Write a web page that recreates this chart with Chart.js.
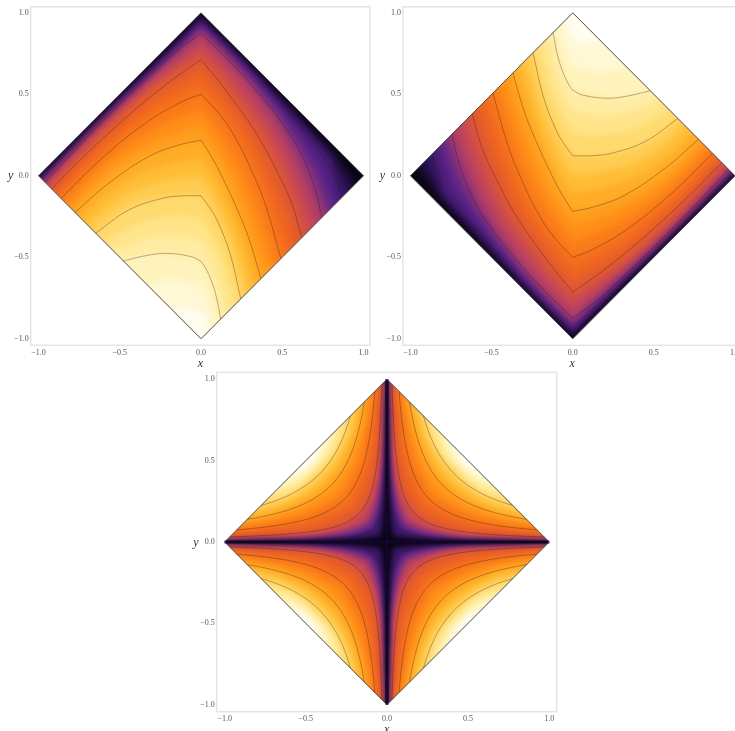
<!DOCTYPE html>
<html><head><meta charset="utf-8">
<style>
html,body{margin:0;padding:0;background:#fff;width:735px;height:731px;overflow:hidden}
canvas{position:absolute}
.lines{filter:blur(.35px)}
</style>
<script src="https://cdn.jsdelivr.net/npm/chart.js@4"></script>
</head><body>
<canvas id="f1" style="left:0;top:0"></canvas>
<canvas id="c1" class="lines" style="left:0;top:0"></canvas>
<canvas id="f2" style="left:372px;top:0"></canvas>
<canvas id="c2" class="lines" style="left:372px;top:0"></canvas>
<canvas id="f3" style="left:190px;top:365px"></canvas>
<canvas id="c3" class="lines" style="left:190px;top:365px"></canvas>
<script>
// ---- axis data
const tickValues = [-1, -0.5, 0, 0.5, 1];
const tickLabels = ['\u22121.0', '\u22120.5', '0.0', '0.5', '1.0'];

// ---- colour scale: value 0..1
const scaleStops = [0, .06, .125, .2, .25, .31, .375, .44, .5, .56, .625, .69, .75, .81, .875, .94, 1];
const scaleColors = ['#000000', '#1d0c36', '#431a7a', '#6a2a8a', '#a83a68', '#c4455a', '#dc5535', '#ee6520', '#f8741a',
  '#ff8c18', '#ffa41f', '#ffbe38', '#ffd460', '#ffe488', '#fff0b0', '#fff8d8', '#ffffff'];

// ---- upper panels: colour levels, as fractions along rays from the corner (0,-1)
const rayX = [-1, -.833, -.667, -.5, -.333, -.167, 0, .167, .333, .5, .667, .833, 1];
const rayY = [0, .167, .333, .5, .667, .833, 1, .833, .667, .5, .333, .167, 0];
const wedgeLevels = [0, .042, .083, .125, .167, .208, .25, .292, .333, .375, .417, .458, .5, .542, .583, .625, .667, .708, .75, .792, .833, .875, .917, .958];
const wedgeRows = [
  [1,1,1,1,1,1,1,1,1,1,1,1,1],
  [.995,.995,.995,.995,.993,.993,.993,.993,.993,.99,.986,.982,.953],
  [.99,.99,.99,.99,.987,.985,.985,.987,.986,.979,.972,.964,.907],
  [.985,.985,.985,.985,.98,.978,.978,.98,.979,.969,.958,.946,.86],
  [.978,.979,.98,.978,.972,.968,.965,.968,.964,.948,.927,.892,.822],
  [.972,.974,.975,.972,.965,.958,.952,.955,.948,.928,.895,.848,.783],
  [.965,.968,.97,.965,.957,.948,.939,.943,.933,.907,.864,.804,.745],
  [.952,.956,.958,.954,.945,.929,.912,.913,.899,.871,.824,.764,.705],
  [.938,.944,.947,.943,.932,.91,.885,.884,.866,.836,.784,.725,.665],
  [.925,.932,.935,.932,.92,.892,.858,.854,.832,.8,.743,.685,.625],
  [.905,.911,.911,.904,.889,.857,.821,.814,.792,.755,.695,.639,.583],
  [.885,.89,.888,.876,.858,.822,.785,.775,.753,.71,.648,.592,.542],
  [.865,.868,.864,.849,.827,.786,.748,.735,.713,.664,.6,.546,.5],
  [.837,.84,.833,.813,.783,.742,.702,.687,.656,.608,.549,.5,.458],
  [.808,.813,.803,.776,.74,.698,.655,.638,.6,.552,.499,.454,.417],
  [.78,.785,.772,.74,.696,.654,.609,.59,.543,.496,.448,.408,.375],
  [.737,.738,.721,.685,.639,.596,.552,.533,.491,.448,.402,.364,.333],
  [.693,.69,.67,.63,.582,.538,.495,.476,.439,.4,.356,.32,.292],
  [.65,.643,.618,.574,.525,.48,.4375,.419,.387,.352,.31,.277,.25],
  [.594,.572,.542,.496,.45,.408,.37,.354,.325,.296,.257,.238,.207],
  [.538,.504,.466,.418,.375,.337,.302,.288,.262,.232,.204,.177,.163],
  [.482,.437,.39,.34,.3,.265,.234,.223,.2,.171,.15,.133,.12],
  [.33,.3,.27,.235,.205,.18,.16,.15,.135,.115,.1,.09,.08],
  [.17,.155,.14,.12,.105,.09,.08,.075,.07,.06,.05,.045,.04]
];

// ---- upper panels: contour lines (each side of the crease at x=0)
const wedgeLeftX = [
  [-.96,-.8,-.62,-.46,-.314,-.15,0],
  [-.919,-.714,-.447,-.242,-.12,0],
  [-.862,-.611,-.345,-.119,0],
  [-.775,-.57,-.324,-.139,0],
  [-.648,-.447,-.242,-.119,0],
  [-.478,-.324,-.201,-.057,0]
];
const wedgeLeftY = [
  [-.04,.13,.315,.475,.615,.765,.873],
  [-.081,.125,.37,.54,.63,.713],
  [-.138,.106,.321,.454,.501],
  [-.225,-.047,.117,.188,.219],
  [-.352,-.211,-.139,-.123,-.123],
  [-.522,-.487,-.476,-.497,-.525]
];
const wedgeRightX = [
  [0,.168,.373,.578,.763,.835,.866],
  [0,.168,.373,.537,.6,.665,.71,.743],
  [0,.168,.353,.476,.558,.62],
  [0,.127,.23,.312,.394,.492],
  [0,.066,.127,.23,.3,.369],
  [0,.05,.1,.178,.245],
  [0,.025,.066,.096,.121]
];
const wedgeRightY = [
  [.955,.8,.59,.342,.1,-.03,-.134],
  [.873,.71,.485,.27,.165,.025,-.11,-.257],
  [.713,.505,.239,.01,-.17,-.38],
  [.501,.362,.2,.03,-.17,-.508],
  [.219,.115,0,-.222,-.4,-.631],
  [-.123,-.19,-.275,-.476,-.755],
  [-.525,-.56,-.65,-.75,-.879]
];

// ---- lower panel: colour levels, as fractions along rays from the edge midpoint (.5,.5) to axis point (0,t)
const crossRayT = [1, .8, .65, .5, .38, .28, .18, .1, .04, 0];
const crossLevels = [0, .03, .07, .14, .19, .24, .29, .33, .375, .417, .458, .5, .542, .583, .625, .667, .708, .75, .79, .83, .875, .92, .96];
const crossRows = [
  [1,1,1,1,1,1,1,1,1,1],
  [.996,.992,.99,.988,.985,.98,.975,.97,.96,.95],
  [.992,.986,.982,.978,.972,.965,.955,.94,.925,.91],
  [.985,.976,.972,.968,.958,.946,.92,.894,.86,.84],
  [.976,.965,.96,.953,.938,.92,.888,.855,.822,.8],
  [.967,.954,.948,.938,.919,.893,.856,.816,.784,.76],
  [.958,.944,.936,.924,.899,.867,.824,.778,.746,.72],
  [.949,.933,.924,.909,.88,.84,.792,.739,.708,.68],
  [.94,.922,.912,.894,.86,.814,.76,.7,.67,.64],
  [.913,.885,.866,.836,.79,.743,.692,.64,.613,.587],
  [.887,.847,.82,.778,.72,.672,.623,.58,.557,.533],
  [.86,.81,.773,.72,.65,.6,.555,.52,.5,.48],
  [.82,.761,.71,.65,.582,.533,.489,.455,.435,.417],
  [.779,.713,.647,.58,.514,.467,.422,.39,.369,.353],
  [.738,.664,.584,.51,.446,.4,.356,.325,.304,.29],
  [.676,.6,.519,.44,.38,.338,.301,.275,.258,.247],
  [.614,.536,.453,.37,.313,.276,.247,.224,.212,.203],
  [.552,.472,.388,.3,.246,.214,.192,.174,.165,.16],
  [.48,.41,.335,.26,.21,.18,.16,.145,.14,.135],
  [.41,.345,.28,.215,.175,.15,.13,.12,.115,.11],
  [.33,.275,.22,.17,.14,.12,.105,.095,.09,.085],
  [.24,.2,.16,.125,.1,.09,.075,.07,.065,.06],
  [.13,.11,.09,.07,.055,.05,.042,.038,.035,.033]
];

// ---- lower panel: contour lines of one quadrant, from the edge to the diagonal
const crossLineX = [
  [.224,.25,.28,.31,.34,.37,.395,.417],
  [.139,.155,.175,.2,.23,.26,.29,.32,.346],
  [.0745,.085,.1,.12,.145,.175,.21,.24,.263],
  [.031,.036,.043,.053,.068,.088,.112,.14,.173],
  [.007,.009,.012,.016,.022,.03,.042,.06,.084]
];
const crossLineY = [
  [.776,.696,.621,.561,.512,.47,.44,.417],
  [.861,.774,.686,.6,.522,.462,.414,.375,.346],
  [.9255,.812,.69,.575,.476,.394,.329,.2875,.263],
  [.969,.833,.698,.566,.441,.341,.268,.214,.173],
  [.993,.778,.583,.4375,.318,.233,.167,.117,.084]
];

const diamondX = [0, 1, 0, -1, 0];
const diamondY = [1, 0, -1, 0, 1];
const armX = [[-1, 1], [0, 0]];
const armY = [[0, 0], [-1, 1]];

// ---- helpers
function hexRgb(h){return [1,3,5].map(i=>parseInt(h.substr(i,2),16));}
function colorAt(v){
  let i=0; while(i<scaleStops.length-2 && v>scaleStops[i+1]) i++;
  const f=Math.min(1,Math.max(0,(v-scaleStops[i])/(scaleStops[i+1]-scaleStops[i])));
  const a=hexRgb(scaleColors[i]),b=hexRgb(scaleColors[i+1]);
  return 'rgb('+a.map((c,k)=>Math.round(c+(b[k]-c)*f)).join(',')+')';
}
function bandColor(levels,r){
  const next=r+1<levels.length?levels[r+1]:1;
  return colorAt((levels[r]+next)/2);
}
function band(points,color){
  return {data:points,showLine:true,fill:'shape',backgroundColor:color,borderColor:color,borderWidth:0,pointRadius:0,tension:0};
}
function contour(points){
  return {data:points,showLine:true,fill:false,borderColor:'rgba(50,30,25,.38)',borderWidth:.9,pointRadius:0,tension:.4};
}
function outline(){
  return {data:diamondX.map((x,i)=>({x,y:diamondY[i]})),showLine:true,fill:false,borderColor:'#4a4a4a',borderWidth:1,pointRadius:0,tension:0};
}
function zipXY(xs,ys,sx,sy){return xs.map((x,i)=>({x:sx*x,y:sy*ys[i]}));}
const bleed=.08; // bands run past the diamond so that the soft edge stays inside the clip
function bigDiamond(color){
  return band(diamondX.map((x,i)=>({x:x*1.1,y:diamondY[i]*1.1})),color);
}
function wedgeLine(row,sign){return row.map((s,k)=>({x:sign*s*rayX[k],y:sign*(-1+s*(rayY[k]+1))}));}
function wedgeBands(sign){
  const out=[bigDiamond(bandColor(wedgeLevels,0))];
  wedgeRows.forEach((row,r)=>{
    if(r===0) return;
    const l=wedgeLine(row,sign),a=l[0],b=l[l.length-1];
    const poly=l.concat([{x:b.x+sign*bleed,y:b.y-sign*bleed},{x:0,y:-sign*(1+bleed*1.5)},{x:a.x-sign*bleed,y:a.y-sign*bleed}]);
    out.push(band(poly,bandColor(wedgeLevels,r)));
  });
  return out;
}
function wedgeLines(sign){
  const out=[];
  wedgeLeftX.forEach((xs,i)=>out.push(contour(zipXY(xs,wedgeLeftY[i],sign,sign))));
  wedgeRightX.forEach((xs,i)=>out.push(contour(zipXY(xs,wedgeRightY[i],sign,sign))));
  out.push(outline());
  return out;
}
const quads=[[1,1],[1,-1],[-1,1],[-1,-1]];
function crossLine(row,sx,sy){
  const a=row.map((s,k)=>({x:.5*(1-s),y:.5+s*(crossRayT[k]-.5)}));
  const b=a.slice(0,-1).reverse().map(p=>({x:p.y,y:p.x}));
  return a.concat(b).map(p=>({x:sx*p.x,y:sy*p.y}));
}
function crossBands(){
  const out=[bigDiamond(bandColor(crossLevels,0))];
  crossRows.forEach((row,r)=>{
    if(r===0) return;
    quads.forEach(q=>{
      const l=crossLine(row,q[0],q[1]),a=l[0],b=l[l.length-1];
      const off=p=>({x:p.x+q[0]*bleed,y:p.y+q[1]*bleed});
      out.push(band(l.concat([off(b),off(a)]),bandColor(crossLevels,r)));
    });
  });
  return out;
}
function crossLines(){
  const out=[];
  armX.forEach((xs,i)=>{
    out.push({data:xs.map((x,k)=>({x,y:armY[i][k]})),showLine:true,fill:false,borderColor:'#12062a',borderWidth:3.2,pointRadius:0,tension:0});
  });
  crossLineX.forEach((xs,i)=>{
    const half=xs.map((x,k)=>({x,y:crossLineY[i][k]}));
    const full=half.concat(half.slice(0,-1).reverse().map(p=>({x:p.y,y:p.x})));
    quads.forEach(q=>out.push(contour(full.map(p=>({x:q[0]*p.x,y:q[1]*p.y})))));
  });
  out.push(outline());
  return out;
}

const framePlugin={id:'frame',afterDatasetsDraw(chart,args,o){
  const a=chart.chartArea,c=chart.ctx;
  c.save();c.strokeStyle='#e4e4e4';c.lineWidth=1.5;
  c.strokeRect(a.left,a.top,a.right-a.left,a.bottom-a.top);
  c.fillStyle='#333';c.font='italic 12px "Liberation Serif"';c.textAlign='center';c.textBaseline='middle';
  c.fillText('y',o.yx,o.yy);
  c.restore();
}};

function size(el,cfg){el.width=cfg.w;el.height=cfg.h;el.style.width=cfg.w+'px';el.style.height=cfg.h+'px';}
function panel(n,cfg){
  // soft colour layer
  const fe=document.getElementById('f'+n);
  size(fe,cfg);
  const fill=new Chart(fe,{
    type:'scatter',
    data:{datasets:cfg.bands.slice().reverse()}, // first dataset is painted last by the library
    options:{
      responsive:false,animation:false,devicePixelRatio:1,
      layout:{padding:{top:cfg.top,right:cfg.w-cfg.right,left:cfg.left,bottom:cfg.h-cfg.bottom}},
      plugins:{legend:{display:false},tooltip:{enabled:false}},
      scales:{x:{type:'linear',display:false,min:cfg.xr[0],max:cfg.xr[1]},y:{type:'linear',display:false,min:cfg.yr[0],max:cfg.yr[1]}}
    }
  });
  const poly=diamondX.slice(0,4).map((x,i)=>fill.scales.x.getPixelForValue(x)+'px '+fill.scales.y.getPixelForValue(diamondY[i])+'px').join(',');
  fe.style.filter='blur('+cfg.soft+'px)';
  fe.style.clipPath='polygon('+poly+')';
  // lines, ticks and labels
  const el=document.getElementById('c'+n);
  size(el,cfg);
  const tickFont={family:'"Liberation Serif"',size:8};
  const setTicks=s=>{s.ticks=tickValues.map(v=>({value:v}));};
  const fmt=v=>tickLabels[tickValues.indexOf(v)];
  new Chart(el,{
    type:'scatter',
    data:{datasets:cfg.lines.slice().reverse()},
    plugins:[framePlugin],
    options:{
      responsive:false,animation:false,devicePixelRatio:1,
      layout:{padding:{top:cfg.top,right:cfg.w-cfg.right,left:0,bottom:0}},
      plugins:{legend:{display:false},tooltip:{enabled:false},frame:{yx:cfg.yx,yy:cfg.yy}},
      scales:{
        x:{type:'linear',min:cfg.xr[0],max:cfg.xr[1],afterBuildTicks:setTicks,
          afterFit:s=>{s.height=cfg.h-cfg.bottom;},
          grid:{display:false,drawTicks:false},border:{display:false},
          ticks:{callback:fmt,font:tickFont,color:'#555',padding:2.5,maxRotation:0,autoSkip:false},
          title:{display:true,text:'x',color:'#333',font:{family:'"Liberation Serif"',size:12,style:'italic'},padding:{top:0,bottom:cfg.tb}}},
        y:{type:'linear',min:cfg.yr[0],max:cfg.yr[1],afterBuildTicks:setTicks,
          afterFit:s=>{s.width=cfg.left;},
          grid:{display:false,drawTicks:false},border:{display:false},
          ticks:{callback:fmt,font:tickFont,color:'#555',padding:2,autoSkip:false}}
      }
    }
  });
}

panel(1,{w:372,h:372,left:30.7,right:370,top:6.7,bottom:345.3,xr:[-1.048,1.04],yr:[-1.04,1.037],tb:1.4,yx:10.7,yy:175.7,soft:3,bands:wedgeBands(1),lines:wedgeLines(1)});
panel(2,{w:375,h:372,left:31,right:369.5,top:6.7,bottom:345.3,xr:[-1.046,1.04],yr:[-1.04,1.037],tb:1.4,yx:10.3,yy:175.7,soft:3,bands:wedgeBands(-1),lines:wedgeLines(-1)});
panel(3,{w:380,h:381,left:26.7,right:366.7,top:7.3,bottom:346.7,xr:[-1.049,1.046],yr:[-1.043,1.043],tb:9.4,yx:6,yy:178,soft:2,bands:crossBands(),lines:crossLines()});
</script>
</body></html>
